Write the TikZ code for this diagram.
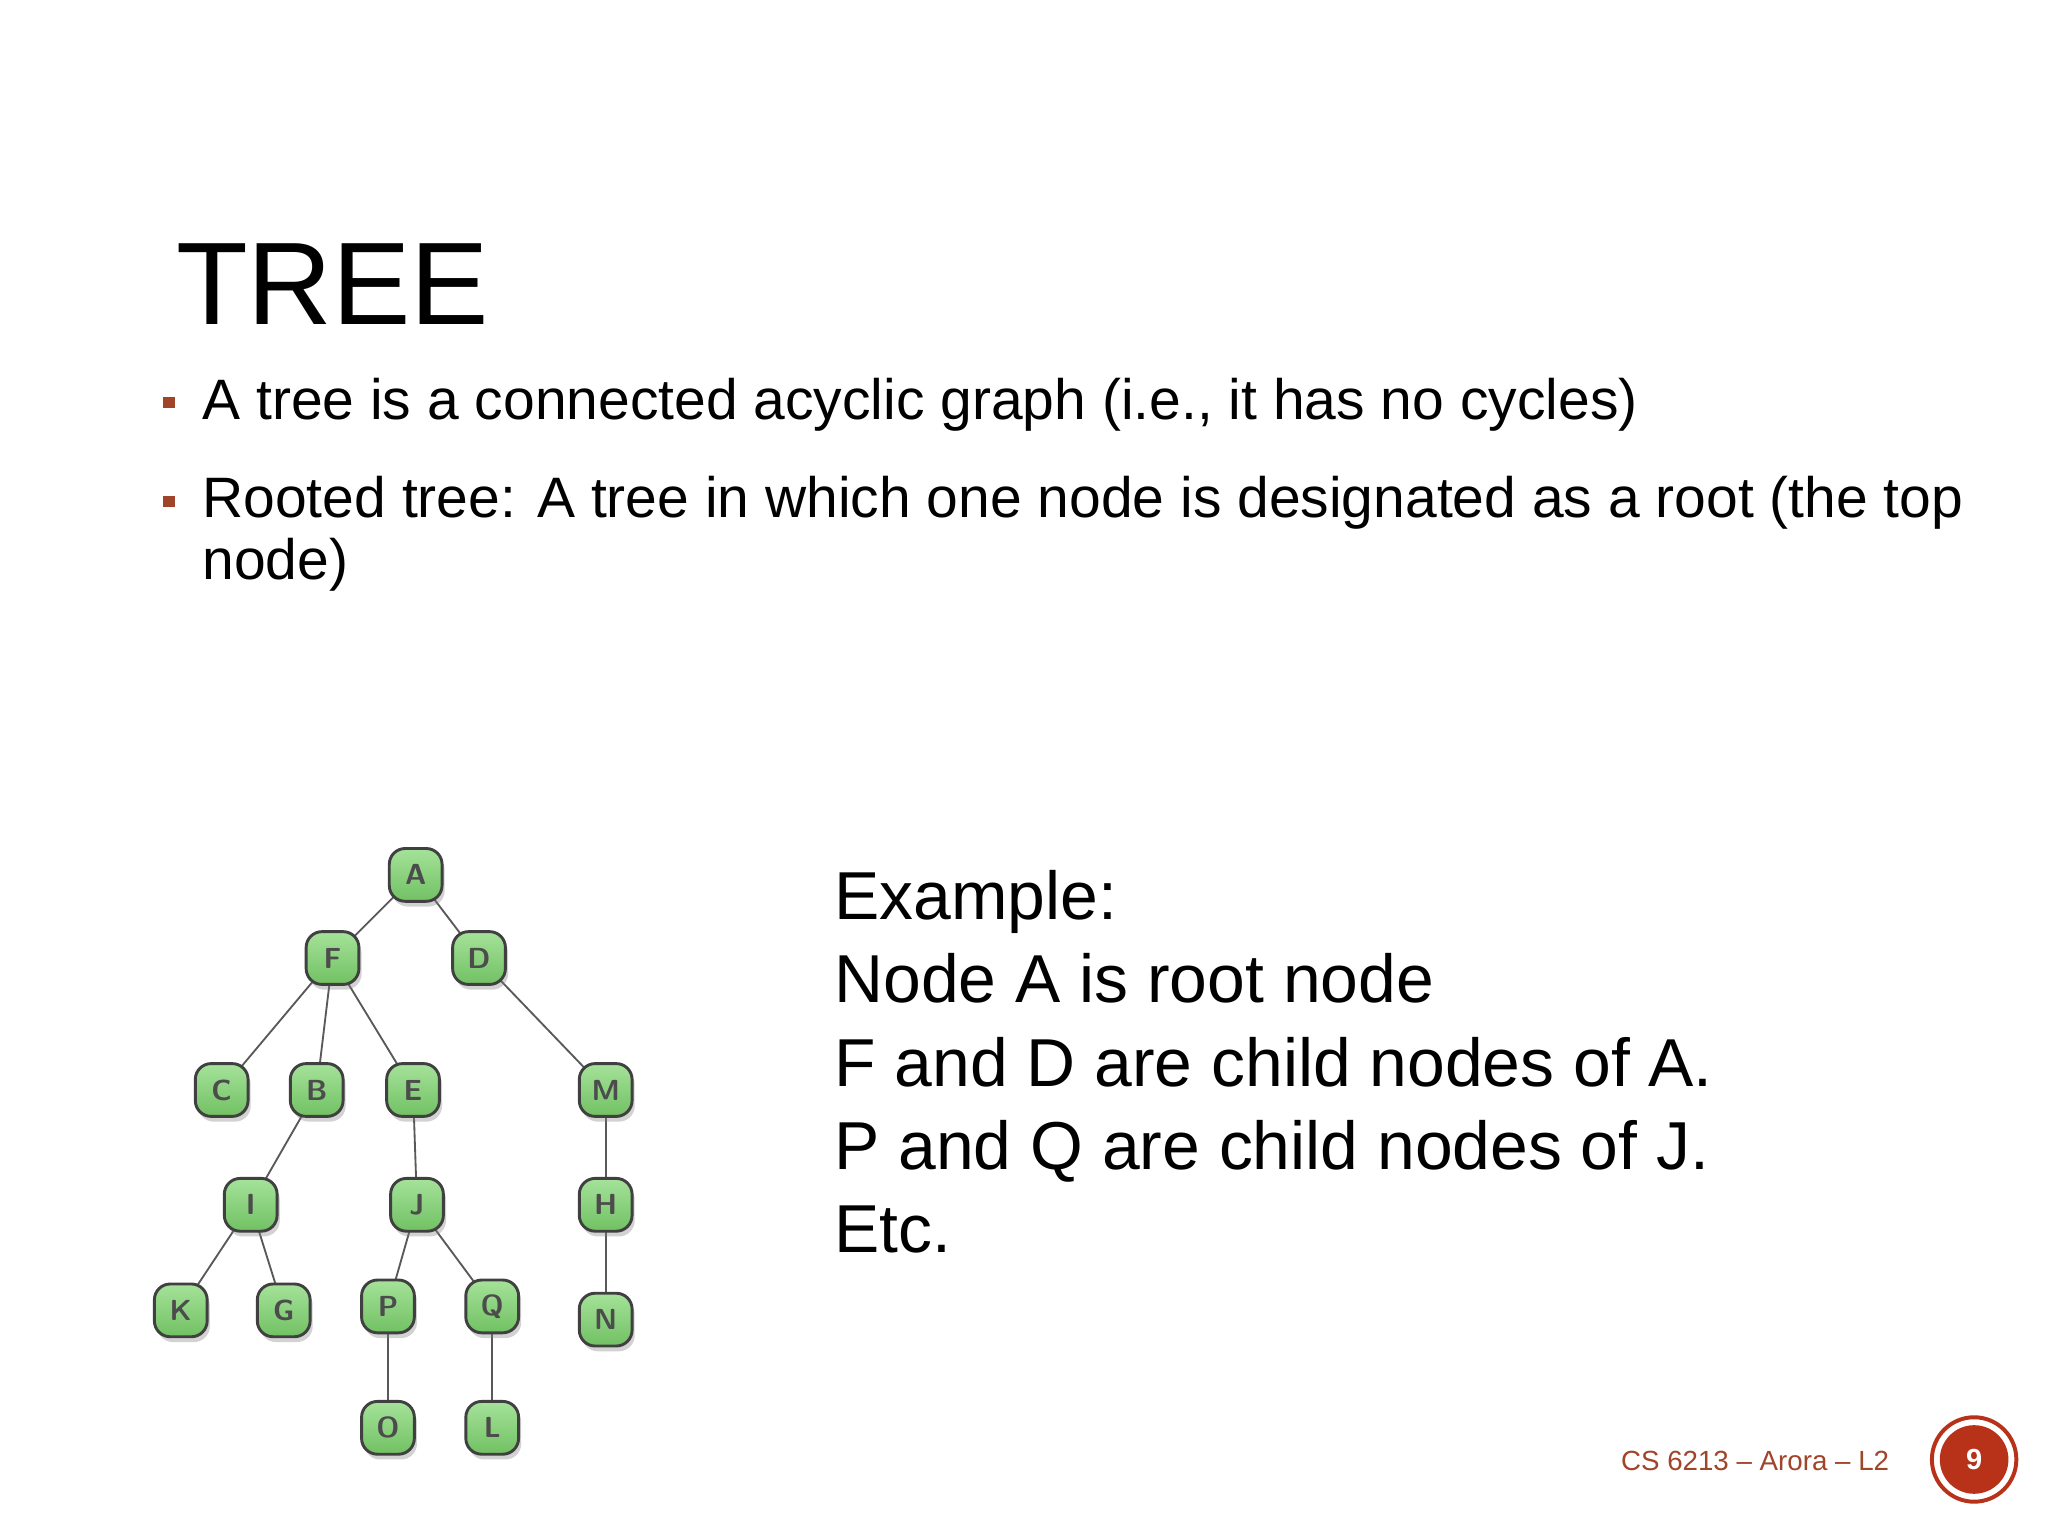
\documentclass[tikz,border=0pt]{standalone}
\usepackage{fontspec}
\setmainfont{Liberation Sans}
\usetikzlibrary{shadows}
\definecolor{brn}{HTML}{A0442A}
\definecolor{ngreen}{HTML}{7ED66E}
\definecolor{dred}{HTML}{B8321A}
\tikzset{
 tn/.style={draw=black!75,line width=1.1pt,rounded corners=6pt,minimum width=20pt,minimum height=20pt,inner sep=0pt,
   top color=ngreen!70!white,bottom color=ngreen!90!black,font=\sffamily\fontsize{11}{11}\selectfont\bfseries,text=black!70,
   drop shadow={opacity=0.35,shadow xshift=1pt,shadow yshift=-2pt}},
 ed/.style={draw=black!65,line width=0.7pt},
 bul/.style={fill=brn,minimum size=4.5pt,inner sep=0pt},
 body/.style={font=\fontsize{21.6}{24}\selectfont,anchor=base west,inner sep=0pt},
 ex/.style={font=\fontsize{25.7}{30}\selectfont,anchor=base west,inner sep=0pt}
}
\begin{document}
\begin{tikzpicture}[x=0.5pt,y=-0.5pt]
\useasboundingbox[fill=white] (0,0) rectangle (1552,1164);
\node[anchor=base west,inner sep=0pt,font=\fontsize{44.5}{46}\selectfont] (title) at (133,246) {TREE};
\node[bul] (b1) at (128,305) {};
\node[body] (t1) at (153,318) {A tree is a connected acyclic graph (i.e., it has no cycles)};
\node[bul] (b2) at (128,380) {};
\node[body] (t2) at (153,392) {Rooted tree: A tree in which one node is designated as a root (the top};
\node[body] (t3) at (153,439) {node)};
\foreach \n/\x/\y in {A/315/663,F/252/726,D/363/726,C/168/826,B/240/826,E/313/826,M/459/826,I/190/913,J/316/913,H/459/913,K/137/993,G/215/993,P/294/990,Q/373/990,N/459/1000,O/294/1082,L/373/1082}
  \coordinate (p\n) at (\x,\y);
\foreach \a/\b in {A/F,A/D,F/C,F/B,F/E,D/M,B/I,E/J,M/H,I/K,I/G,J/P,J/Q,H/N,P/O,Q/L}
  \draw[ed] (p\a) -- (p\b);
\foreach \n in {A,F,D,C,B,E,M,I,J,H,K,G,P,Q,N,O,L}
  \node[tn] (\n) at (p\n) {\n};
\node[ex] (e1) at (632,697) {Example:};
\node[ex] (e2) at (632,760) {Node A is root node};
\node[ex] (e3) at (632,823) {F and D are child nodes of A.};
\node[ex] (e4) at (632,886) {P and Q are child nodes of J.};
\node[ex] (e5) at (632,949) {Etc.};
\node[anchor=base east,inner sep=0pt,text=brn,font=\fontsize{10.5}{12}\selectfont] (foot) at (1432,1114) {CS 6213 – Arora – L2};
\node[circle,draw=dred,line width=1.5pt,minimum size=32pt,inner sep=0pt] (c0) at (1496,1106) {};
\node[circle,fill=dred,minimum size=26pt,inner sep=0pt,text=white,font=\fontsize{11}{12}\selectfont\bfseries] (c1) at (1496,1106) {9};
\end{tikzpicture}
\end{document}
